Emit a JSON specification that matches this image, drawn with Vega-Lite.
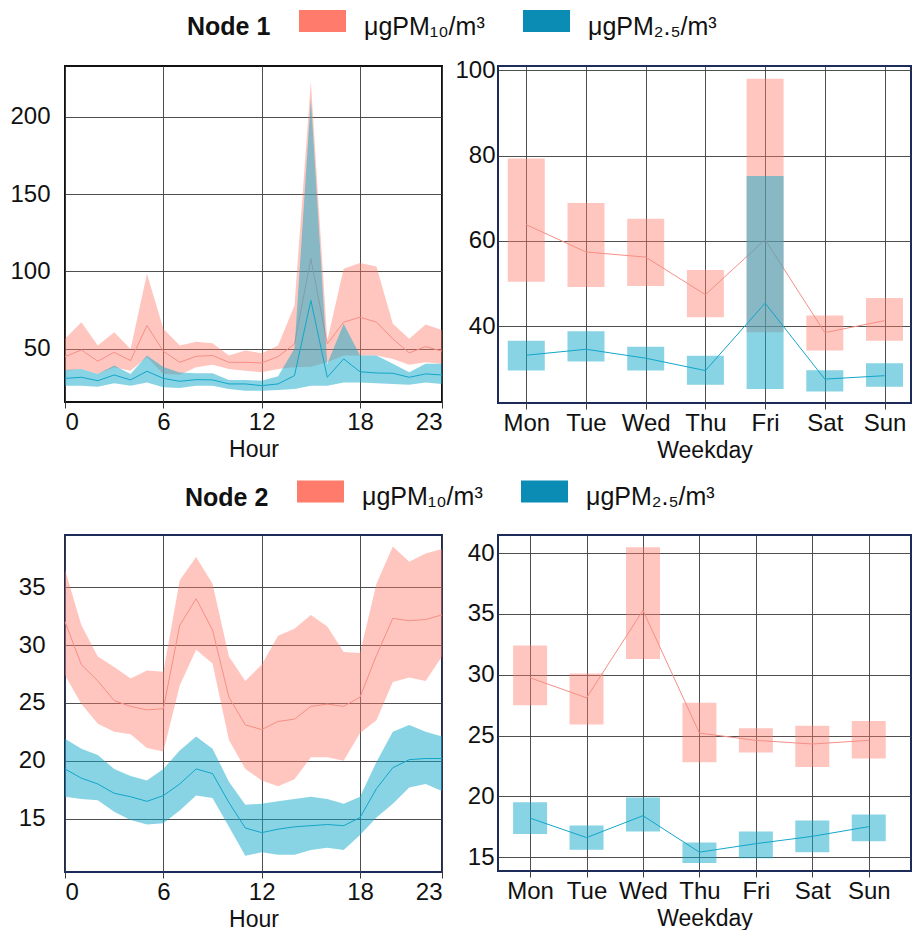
{
  "$schema": "https://vega.github.io/schema/vega-lite/v6.json",
  "padding": {"left": 8, "top": 2, "right": 0, "bottom": 0},
  "background": "white",
  "config": {
    "font": "Liberation Sans",
    "axis": {"labelFontSize": 24, "titleFontSize": 23, "titleFontWeight": "normal", "labelColor": "#111", "titleColor": "#111", "domain": false, "gridColor": "#3c3c3c", "gridOpacity": 0.9, "gridWidth": 1, "tickColor": "#3c3c3c"},
    "axisX": {"tickSize": 6, "labelPadding": 2, "titlePadding": 4},
    "axisY": {"ticks": false},
    "view": {"stroke": "#1c2b5a", "strokeWidth": 2},
    "legend": {"orient": "none", "direction": "horizontal", "titleOrient": "left", "titleFontSize": 25, "titleFontWeight": "bold", "titleColor": "#111", "titlePadding": 28, "titleAnchor": "middle", "titleBaseline": "middle", "labelFontSize": 25, "labelColor": "#111", "labelOffset": 18, "columnPadding": 38, "symbolType": "M-1,-0.7H1V0.234H-1ZM0,1L0,1", "symbolSize": 2209, "symbolOpacity": 1, "symbolStrokeWidth": 0, "padding": 0}
  },
  "datasets": {
    "n1h": [
      {"s":"PM10","h":0,"lo":35.7,"m":44.8,"hi":56.3},{"s":"PM10","h":1,"lo":36.8,"m":49.1,"hi":67.1},{"s":"PM10","h":2,"lo":33.6,"m":41.8,"hi":52},{"s":"PM10","h":3,"lo":37.9,"m":47.6,"hi":60.6},{"s":"PM10","h":4,"lo":35.7,"m":42.2,"hi":49.8},{"s":"PM10","h":5,"lo":44.4,"m":64.9,"hi":98.5},{"s":"PM10","h":6,"lo":33.5,"m":48.3,"hi":62.8},{"s":"PM10","h":7,"lo":33,"m":41.1,"hi":52},{"s":"PM10","h":8,"lo":37.9,"m":45,"hi":54.5},{"s":"PM10","h":9,"lo":39.6,"m":45.5,"hi":53.5},{"s":"PM10","h":10,"lo":36.8,"m":41.1,"hi":45.5},{"s":"PM10","h":11,"lo":35.7,"m":41.1,"hi":48.7},{"s":"PM10","h":12,"lo":34.6,"m":40.7,"hi":47},{"s":"PM10","h":13,"lo":36.8,"m":44.8,"hi":52},{"s":"PM10","h":14,"lo":37.9,"m":53,"hi":77.9},{"s":"PM10","h":15,"lo":38.3,"m":108.2,"hi":222.9},{"s":"PM10","h":16,"lo":41.1,"m":53,"hi":55.2},{"s":"PM10","h":17,"lo":45.5,"m":67.1,"hi":101.7},{"s":"PM10","h":18,"lo":45.5,"m":70.3,"hi":105.4},{"s":"PM10","h":19,"lo":45.5,"m":67.1,"hi":103.2},{"s":"PM10","h":20,"lo":43.3,"m":56.3,"hi":66},{"s":"PM10","h":21,"lo":39.6,"m":47.2,"hi":56.3},{"s":"PM10","h":22,"lo":41.1,"m":51.3,"hi":65.6},{"s":"PM10","h":23,"lo":40.1,"m":48.3,"hi":62.1},
      {"s":"PM2.5","h":0,"lo":26,"m":30.7,"hi":36.2},{"s":"PM2.5","h":1,"lo":26,"m":31.4,"hi":36.8},{"s":"PM2.5","h":2,"lo":25.3,"m":29.2,"hi":33.6},{"s":"PM2.5","h":3,"lo":27.5,"m":32.9,"hi":39},{"s":"PM2.5","h":4,"lo":26,"m":29.7,"hi":33.6},{"s":"PM2.5","h":5,"lo":28.1,"m":35.3,"hi":45.5},{"s":"PM2.5","h":6,"lo":24.9,"m":30.7,"hi":38},{"s":"PM2.5","h":7,"lo":24.5,"m":28.8,"hi":34.5},{"s":"PM2.5","h":8,"lo":26,"m":29.9,"hi":34},{"s":"PM2.5","h":9,"lo":26,"m":29.7,"hi":34},{"s":"PM2.5","h":10,"lo":23.8,"m":27.1,"hi":29.7},{"s":"PM2.5","h":11,"lo":22.7,"m":27.1,"hi":29.7},{"s":"PM2.5","h":12,"lo":22.7,"m":26,"hi":29.2},{"s":"PM2.5","h":13,"lo":23.2,"m":27.1,"hi":32},{"s":"PM2.5","h":14,"lo":23.8,"m":32.5,"hi":50},{"s":"PM2.5","h":15,"lo":26,"m":81.2,"hi":212},{"s":"PM2.5","h":16,"lo":26,"m":31.4,"hi":40},{"s":"PM2.5","h":17,"lo":28.1,"m":43.3,"hi":66},{"s":"PM2.5","h":18,"lo":28.1,"m":35,"hi":45.5},{"s":"PM2.5","h":19,"lo":27.5,"m":34.2,"hi":45.5},{"s":"PM2.5","h":20,"lo":27.1,"m":34,"hi":40.1},{"s":"PM2.5","h":21,"lo":26.6,"m":31.4,"hi":34.6},{"s":"PM2.5","h":22,"lo":28.1,"m":33.6,"hi":40.1},{"s":"PM2.5","h":23,"lo":27.1,"m":32.9,"hi":40.1}
    ],
    "n1w": [
      {"s":"PM10","wd":0,"lo":50.4,"m":63.8,"hi":79.3},{"s":"PM10","wd":1,"lo":49.2,"m":57.4,"hi":68.9},{"s":"PM10","wd":2,"lo":49.4,"m":56.2,"hi":65.2},{"s":"PM10","wd":3,"lo":42.1,"m":47.4,"hi":53.2},{"s":"PM10","wd":4,"lo":38.6,"m":60.3,"hi":98},{"s":"PM10","wd":5,"lo":34.3,"m":38.5,"hi":42.5},{"s":"PM10","wd":6,"lo":36.6,"m":41.3,"hi":46.6},
      {"s":"PM2.5","wd":0,"lo":29.6,"m":33.2,"hi":36.6},{"s":"PM2.5","wd":1,"lo":31.7,"m":34.6,"hi":38.8},{"s":"PM2.5","wd":2,"lo":29.6,"m":32.5,"hi":35.2},{"s":"PM2.5","wd":3,"lo":26.3,"m":29.6,"hi":33.1},{"s":"PM2.5","wd":4,"lo":25.3,"m":45.4,"hi":75.2},{"s":"PM2.5","wd":5,"lo":24.7,"m":27.6,"hi":29.7},{"s":"PM2.5","wd":6,"lo":25.8,"m":28.4,"hi":31.3}
    ],
    "n2h": [
      {"s":"PM10","h":0,"lo":27.4,"m":32,"hi":36.5},{"s":"PM10","h":1,"lo":24.9,"m":28.3,"hi":31.7},{"s":"PM10","h":2,"lo":23.2,"m":26.9,"hi":29},{"s":"PM10","h":3,"lo":22.5,"m":25.2,"hi":28.1},{"s":"PM10","h":4,"lo":22.3,"m":24.7,"hi":27.1},{"s":"PM10","h":5,"lo":21.1,"m":24.4,"hi":27.8},{"s":"PM10","h":6,"lo":20.8,"m":24.5,"hi":27.7},{"s":"PM10","h":7,"lo":26.5,"m":31.7,"hi":35.6},{"s":"PM10","h":8,"lo":29.6,"m":34,"hi":37.6},{"s":"PM10","h":9,"lo":28.4,"m":31.3,"hi":35.3},{"s":"PM10","h":10,"lo":21.8,"m":25.5,"hi":29},{"s":"PM10","h":11,"lo":19.3,"m":23.1,"hi":26.9},{"s":"PM10","h":12,"lo":18.3,"m":22.7,"hi":28.3},{"s":"PM10","h":13,"lo":17.8,"m":23.4,"hi":30.8},{"s":"PM10","h":14,"lo":18.4,"m":23.6,"hi":31.4},{"s":"PM10","h":15,"lo":20.3,"m":24.7,"hi":32.6},{"s":"PM10","h":16,"lo":20.3,"m":24.9,"hi":31.6},{"s":"PM10","h":17,"lo":20,"m":24.7,"hi":29.4},{"s":"PM10","h":18,"lo":22.4,"m":25.5,"hi":29.3},{"s":"PM10","h":19,"lo":23.5,"m":29.1,"hi":35.3},{"s":"PM10","h":20,"lo":26.8,"m":32.3,"hi":38.5},{"s":"PM10","h":21,"lo":27.2,"m":32.1,"hi":37.2},{"s":"PM10","h":22,"lo":26.9,"m":32.2,"hi":37.9},{"s":"PM10","h":23,"lo":29,"m":32.6,"hi":38.3},
      {"s":"PM2.5","h":0,"lo":16.9,"m":19.3,"hi":21.9},{"s":"PM2.5","h":1,"lo":16.7,"m":18.5,"hi":21.05},{"s":"PM2.5","h":2,"lo":16.6,"m":18,"hi":20.5},{"s":"PM2.5","h":3,"lo":15.6,"m":17.2,"hi":19.3},{"s":"PM2.5","h":4,"lo":14.9,"m":16.9,"hi":18.7},{"s":"PM2.5","h":5,"lo":14.5,"m":16.5,"hi":18.3},{"s":"PM2.5","h":6,"lo":14.6,"m":17,"hi":19.3},{"s":"PM2.5","h":7,"lo":15.7,"m":18,"hi":20.9},{"s":"PM2.5","h":8,"lo":17,"m":19.3,"hi":22.1},{"s":"PM2.5","h":9,"lo":16.8,"m":18.9,"hi":21.05},{"s":"PM2.5","h":10,"lo":14.3,"m":16.4,"hi":18.2},{"s":"PM2.5","h":11,"lo":11.8,"m":14.2,"hi":16.2},{"s":"PM2.5","h":12,"lo":12.1,"m":13.8,"hi":16.3},{"s":"PM2.5","h":13,"lo":11.9,"m":14.1,"hi":16.5},{"s":"PM2.5","h":14,"lo":11.9,"m":14.3,"hi":16.7},{"s":"PM2.5","h":15,"lo":12.3,"m":14.4,"hi":16.9},{"s":"PM2.5","h":16,"lo":12.5,"m":14.5,"hi":16.7},{"s":"PM2.5","h":17,"lo":12.3,"m":14.4,"hi":16.3},{"s":"PM2.5","h":18,"lo":13.6,"m":15.1,"hi":16.9},{"s":"PM2.5","h":19,"lo":15.1,"m":17.6,"hi":19.9},{"s":"PM2.5","h":20,"lo":16.3,"m":19.4,"hi":22.5},{"s":"PM2.5","h":21,"lo":17.7,"m":20.1,"hi":23.1},{"s":"PM2.5","h":22,"lo":18,"m":20.2,"hi":22.5},{"s":"PM2.5","h":23,"lo":17.4,"m":20.2,"hi":22.1}
    ],
    "n2w": [
      {"s":"PM10","wd":0,"lo":27.5,"m":29.75,"hi":32.4},{"s":"PM10","wd":1,"lo":25.9,"m":28.1,"hi":30.1},{"s":"PM10","wd":2,"lo":31.3,"m":35.3,"hi":40.5},{"s":"PM10","wd":3,"lo":22.8,"m":25.2,"hi":27.7},{"s":"PM10","wd":4,"lo":23.6,"m":24.6,"hi":25.6},{"s":"PM10","wd":5,"lo":22.4,"m":24.3,"hi":25.8},{"s":"PM10","wd":6,"lo":23.1,"m":24.6,"hi":26.2},
      {"s":"PM2.5","wd":0,"lo":16.9,"m":18.2,"hi":19.5},{"s":"PM2.5","wd":1,"lo":15.6,"m":16.6,"hi":17.6},{"s":"PM2.5","wd":2,"lo":17.1,"m":18.4,"hi":19.9},{"s":"PM2.5","wd":3,"lo":14.5,"m":15.4,"hi":16.2},{"s":"PM2.5","wd":4,"lo":14.9,"m":16.1,"hi":17.1},{"s":"PM2.5","wd":5,"lo":15.4,"m":16.7,"hi":18},{"s":"PM2.5","wd":6,"lo":16.3,"m":17.5,"hi":18.5}
    ]
  },
  "columns": 2,
  "spacing": {"row": 132, "column": 56},
  "bounds": "flush",
  "align": "each",
  "resolve": {"scale": {"x": "independent", "y": "independent", "color": "independent"}, "legend": {"color": "independent"}},
  "concat": [
    {
      "width": 377, "height": 336,
      "view": {"stroke": "#111", "strokeWidth": 2},
      "data": {"name": "n1h"},
      "encoding": {"x": {"field": "h", "type": "quantitative", "scale": {"domain": [0, 23], "nice": false, "zero": false}, "axis": {"values": [0, 6, 12, 18, 23], "title": "Hour"}}},
      "layer": [
        {"transform": [{"filter": "datum.s === 'PM10'"}], "mark": {"type": "area", "color": "#FF7B6B", "opacity": 0.43},
         "encoding": {"y": {"field": "lo", "type": "quantitative", "scale": {"domain": [15.4, 233], "nice": false, "zero": false}, "axis": {"values": [50, 100, 150, 200], "title": null, "labelPadding": 15}}, "y2": {"field": "hi"}}},
        {"transform": [{"filter": "datum.s === 'PM10'"}], "mark": {"type": "line", "color": "#F58F86", "strokeWidth": 1}, "encoding": {"y": {"field": "m", "type": "quantitative"}}},
        {"transform": [{"filter": "datum.s === 'PM2.5'"}], "mark": {"type": "area", "color": "#12A9C9", "opacity": 0.5}, "encoding": {"y": {"field": "lo", "type": "quantitative"}, "y2": {"field": "hi"}}},
        {"transform": [{"filter": "datum.s === 'PM2.5'"}], "mark": {"type": "line", "color": "#12A6C9", "strokeWidth": 1}, "encoding": {"y": {"field": "m", "type": "quantitative"}}},
        {"mark": {"type": "square", "opacity": 0}, "encoding": {"y": {"field": "m", "type": "quantitative"},
          "color": {"field": "s", "type": "nominal", "scale": {"domain": ["PM10", "PM2.5"], "range": ["#FF7B6B", "#0A8CB4"]},
            "legend": {"title": "Node 1", "legendX": 122, "legendY": -63, "labelExpr": "datum.label === 'PM10' ? 'μgPM₁₀/m³' : 'μgPM₂.₅/m³'"}}}}
      ]
    },
    {
      "width": 413, "height": 337,
      "data": {"name": "n1w"},
      "encoding": {"x": {"field": "wd", "type": "quantitative", "scale": {"domain": [-0.39, 6.36], "nice": false, "zero": false}, "axis": {"values": [0, 1, 2, 3, 4, 5, 6], "title": "Weekday", "labelExpr": "['Mon','Tue','Wed','Thu','Fri','Sat','Sun'][datum.value]"}}},
      "layer": [
        {"transform": [{"filter": "datum.s === 'PM10'"}], "mark": {"type": "bar", "size": 37, "color": "#FF7B6B", "opacity": 0.43},
         "encoding": {"y": {"field": "lo", "type": "quantitative", "scale": {"domain": [22, 101], "nice": false, "zero": false}, "axis": {"values": [40, 60, 80, 100], "title": null, "labelPadding": 3}}, "y2": {"field": "hi"}}},
        {"transform": [{"filter": "datum.s === 'PM10'"}], "mark": {"type": "line", "color": "#F58F86", "strokeWidth": 1}, "encoding": {"y": {"field": "m", "type": "quantitative"}}},
        {"transform": [{"filter": "datum.s === 'PM2.5'"}], "mark": {"type": "bar", "size": 37, "color": "#12A9C9", "opacity": 0.5}, "encoding": {"y": {"field": "lo", "type": "quantitative"}, "y2": {"field": "hi"}}},
        {"transform": [{"filter": "datum.s === 'PM2.5'"}], "mark": {"type": "line", "color": "#12A6C9", "strokeWidth": 1}, "encoding": {"y": {"field": "m", "type": "quantitative"}}}
      ]
    },
    {
      "width": 377, "height": 337,
      "data": {"name": "n2h"},
      "encoding": {"x": {"field": "h", "type": "quantitative", "scale": {"domain": [0, 23], "nice": false, "zero": false}, "axis": {"values": [0, 6, 12, 18, 23], "title": "Hour"}}},
      "layer": [
        {"transform": [{"filter": "datum.s === 'PM10'"}], "mark": {"type": "area", "color": "#FF7B6B", "opacity": 0.43},
         "encoding": {"y": {"field": "lo", "type": "quantitative", "scale": {"domain": [10.4, 39.5], "nice": false, "zero": false}, "axis": {"values": [15, 20, 25, 30, 35], "title": null, "labelPadding": 20}}, "y2": {"field": "hi"}}},
        {"transform": [{"filter": "datum.s === 'PM10'"}], "mark": {"type": "line", "color": "#F58F86", "strokeWidth": 1}, "encoding": {"y": {"field": "m", "type": "quantitative"}}},
        {"transform": [{"filter": "datum.s === 'PM2.5'"}], "mark": {"type": "area", "color": "#12A9C9", "opacity": 0.5}, "encoding": {"y": {"field": "lo", "type": "quantitative"}, "y2": {"field": "hi"}}},
        {"transform": [{"filter": "datum.s === 'PM2.5'"}], "mark": {"type": "line", "color": "#12A6C9", "strokeWidth": 1}, "encoding": {"y": {"field": "m", "type": "quantitative"}}},
        {"mark": {"type": "square", "opacity": 0}, "encoding": {"y": {"field": "m", "type": "quantitative"},
          "color": {"field": "s", "type": "nominal", "scale": {"domain": ["PM10", "PM2.5"], "range": ["#FF7B6B", "#0A8CB4"]},
            "legend": {"title": "Node 2", "legendX": 120, "legendY": -61.5, "labelExpr": "datum.label === 'PM10' ? 'μgPM₁₀/m³' : 'μgPM₂.₅/m³'"}}}}
      ]
    },
    {
      "width": 413, "height": 336,
      "data": {"name": "n2w"},
      "encoding": {"x": {"field": "wd", "type": "quantitative", "scale": {"domain": [-0.48, 6.66], "nice": false, "zero": false}, "axis": {"values": [0, 1, 2, 3, 4, 5, 6], "title": "Weekday", "labelExpr": "['Mon','Tue','Wed','Thu','Fri','Sat','Sun'][datum.value]"}}},
      "layer": [
        {"transform": [{"filter": "datum.s === 'PM10'"}], "mark": {"type": "bar", "size": 34, "color": "#FF7B6B", "opacity": 0.43},
         "encoding": {"y": {"field": "lo", "type": "quantitative", "scale": {"domain": [13.85, 41.5], "nice": false, "zero": false}, "axis": {"values": [15, 20, 25, 30, 35, 40], "title": null, "labelPadding": 4}}, "y2": {"field": "hi"}}},
        {"transform": [{"filter": "datum.s === 'PM10'"}], "mark": {"type": "line", "color": "#F58F86", "strokeWidth": 1}, "encoding": {"y": {"field": "m", "type": "quantitative"}}},
        {"transform": [{"filter": "datum.s === 'PM2.5'"}], "mark": {"type": "bar", "size": 34, "color": "#12A9C9", "opacity": 0.5}, "encoding": {"y": {"field": "lo", "type": "quantitative"}, "y2": {"field": "hi"}}},
        {"transform": [{"filter": "datum.s === 'PM2.5'"}], "mark": {"type": "line", "color": "#12A6C9", "strokeWidth": 1}, "encoding": {"y": {"field": "m", "type": "quantitative"}}}
      ]
    }
  ]
}
